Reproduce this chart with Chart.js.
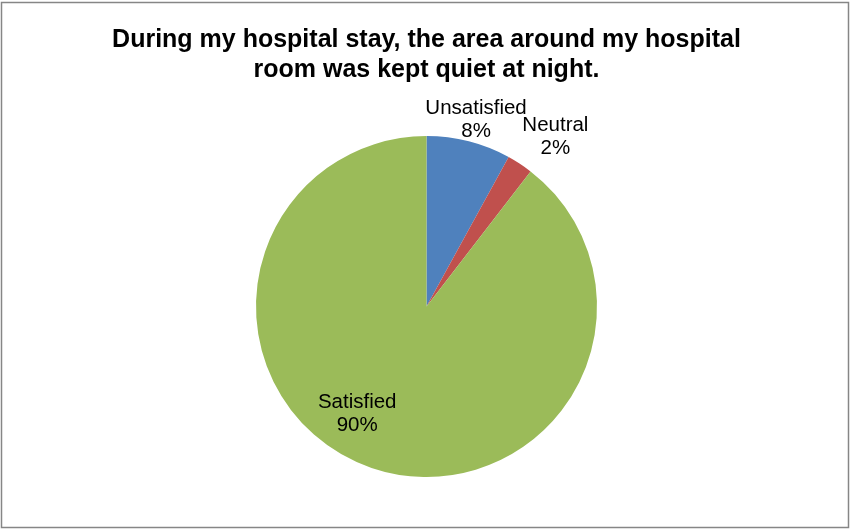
<!DOCTYPE html>
<html>
<head>
<meta charset="utf-8">
<script src="https://cdn.jsdelivr.net/npm/chart.js@4"></script>
<style>
  body { margin: 0; background: #fff; }
  #wrap { width: 853px; height: 531px; }
</style>
</head>
<body>
<div id="wrap"><canvas id="myChart" width="853" height="531"></canvas></div>
<script>
const ctx = document.getElementById("myChart").getContext("2d");

// data
const categories = ["Unsatisfied", "Neutral", "Satisfied"];
const shares = [8.0, 2.45, 89.55];
const colors = ["#4F81BD", "#C0504D", "#9BBB59"];

// where each data label sits: fraction of radius, angle nudge in degrees
const labelPlace = [
  { r: 1.13, da: 0.5 },
  { r: 1.25, da: 4 },
  { r: 0.75, da: 14 },
];

function getTotal(arr) {
  return arr.reduce((acc, cur) => acc + cur, 0);
}

const frame = {
  id: "frame",
  afterDraw(chart) {
    const c = chart.ctx;
    c.save();
    c.strokeStyle = "#868686";
    c.lineWidth = 1.5;
    c.strokeRect(1.5, 2.5, 847, 525);
    c.restore();
  },
};

const sliceLabels = {
  id: "sliceLabels",
  afterDatasetsDraw(chart) {
    const c = chart.ctx;
    const meta = chart.getDatasetMeta(0);
    const total = getTotal(shares);
    c.save();
    c.font = "20.5px 'Liberation Sans', Arial, sans-serif";
    c.fillStyle = "#000";
    c.textAlign = "center";
    c.textBaseline = "middle";
    meta.data.forEach((arc, i) => {
      const p = arc.getProps(["x", "y", "startAngle", "endAngle", "outerRadius"]);
      const a = (p.startAngle + p.endAngle) / 2 + (labelPlace[i].da * Math.PI) / 180;
      const r = p.outerRadius * labelPlace[i].r;
      const x = p.x + Math.cos(a) * r;
      const y = p.y + Math.sin(a) * r;
      c.fillText(categories[i], x, y - 11.5);
      c.fillText(Math.round((shares[i] / total) * 100) + "%", x, y + 11.5);
    });
    c.restore();
  },
};

const myChart = new Chart(ctx, {
  type: "pie",
  data: {
    labels: categories,
    datasets: [
      {
        data: shares,
        backgroundColor: colors,
        borderWidth: 0,
      },
    ],
  },
  options: {
    responsive: false,
    animation: false,
    layout: {
      padding: { top: 0, bottom: 54, left: 0, right: 0 },
    },
    plugins: {
      legend: { display: false },
      tooltip: { enabled: false },
      title: {
        display: true,
        text: [
          "During my hospital stay, the area around my hospital",
          "room was kept quiet at night.",
        ],
        color: "#000",
        font: { family: "'Liberation Sans', Arial, sans-serif", size: 25, weight: "bold", lineHeight: 1.2 },
        padding: { top: 25, bottom: 51 },
      },
    },
  },
  plugins: [sliceLabels, frame],
});
</script>
</body>
</html>
